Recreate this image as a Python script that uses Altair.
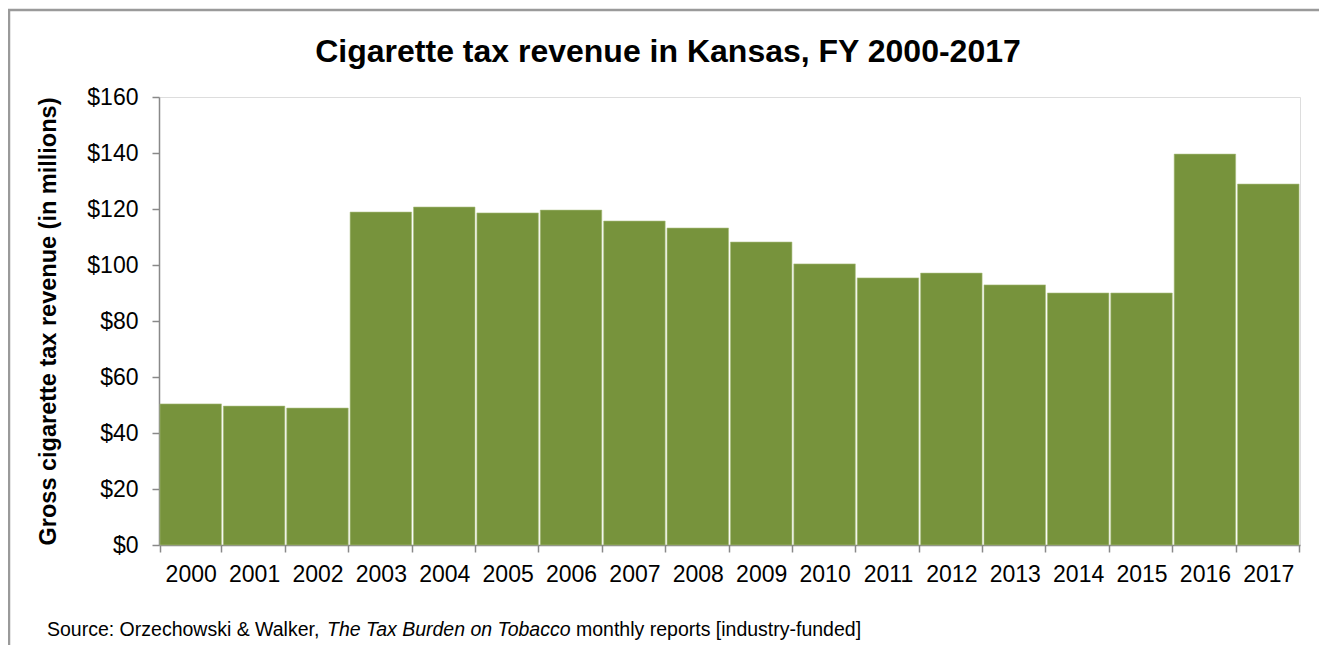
import altair as alt
import pandas as pd

years = [str(y) for y in range(2000, 2018)]
revenue = [50.4, 49.6, 48.9, 118.9, 120.7, 118.6, 119.6, 115.7, 113.2, 108.2,
           100.4, 95.4, 97.1, 92.9, 90.0, 90.0, 139.6, 128.9]
y_ticks = [0, 20, 40, 60, 80, 100, 120, 140, 160]
title_text = "Cigarette tax revenue in Kansas, FY 2000-2017"
y_title = "Gross cigarette tax revenue (in millions)"
source_parts = ["Source: Orzechowski & Walker, ", "The Tax Burden on Tobacco",
                "monthly reports [industry-funded]"]

FONT = "Liberation Sans"
AXIS_GRAY = "#898989"

df = pd.DataFrame({"Year": years, "Revenue": revenue})

bars = alt.Chart(df).mark_bar(color="#77933C", stroke="#a9bd7e", strokeWidth=0.6).encode(
    x=alt.X("Year:N", sort=years,
            scale=alt.Scale(paddingInner=0.03, paddingOuter=0.015),
            axis=alt.Axis(title=None, labelAngle=0, labelFontSize=23, labelFont=FONT,
                          labelColor="black", labelPadding=11, tickBand="extent",
                          tickSize=7, tickColor=AXIS_GRAY, tickWidth=1.5,
                          domainColor=AXIS_GRAY, domainWidth=1.5)),
    y=alt.Y("Revenue:Q",
            scale=alt.Scale(domain=[0, 160], nice=False),
            axis=alt.Axis(title=y_title, values=y_ticks, format="$.0f", grid=False,
                          labelFontSize=23, labelFont=FONT, labelColor="black",
                          labelPadding=14, tickSize=7, tickColor=AXIS_GRAY, tickWidth=1.5,
                          domainColor=AXIS_GRAY, domainWidth=1.5,
                          titleFontSize=23.5, titleFont=FONT, titleFontWeight="bold",
                          titleColor="black", titlePadding=26)),
)

frame = alt.Chart(pd.DataFrame({"k": [0]})).mark_rect(
    fill="transparent", stroke="#9a9a9a", strokeWidth=2.5
).encode(x=alt.value(-150), x2=alt.value(1400), y=alt.value(-87), y2=alt.value(800))

title = alt.Chart(pd.DataFrame({"t": [title_text]})).mark_text(
    align="center", baseline="alphabetic", fontSize=32, font=FONT,
    fontWeight="bold", color="black"
).encode(text="t:N", x=alt.value(509), y=alt.value(-35))

src_x = [-112, 168, 417]
src_style = ["normal", "italic", "normal"]
texts = []
for part, xx, st in zip(source_parts, src_x, src_style):
    texts.append(
        alt.Chart(pd.DataFrame({"t": [part]})).mark_text(
            align="left", baseline="alphabetic", fontSize=19.5, font=FONT,
            fontStyle=st, color="black"
        ).encode(text="t:N", x=alt.value(xx), y=alt.value(539))
    )

chart = alt.layer(frame, bars, title, *texts).properties(
    width=1141, height=448,
    autosize=alt.AutoSizeParams(type="none"),
    padding={"left": 151, "top": 89, "right": 19, "bottom": 100},
).configure_view(stroke=None).configure(background="white")

chart.save("out.html", embed_options={"renderer": "svg", "actions": False})
